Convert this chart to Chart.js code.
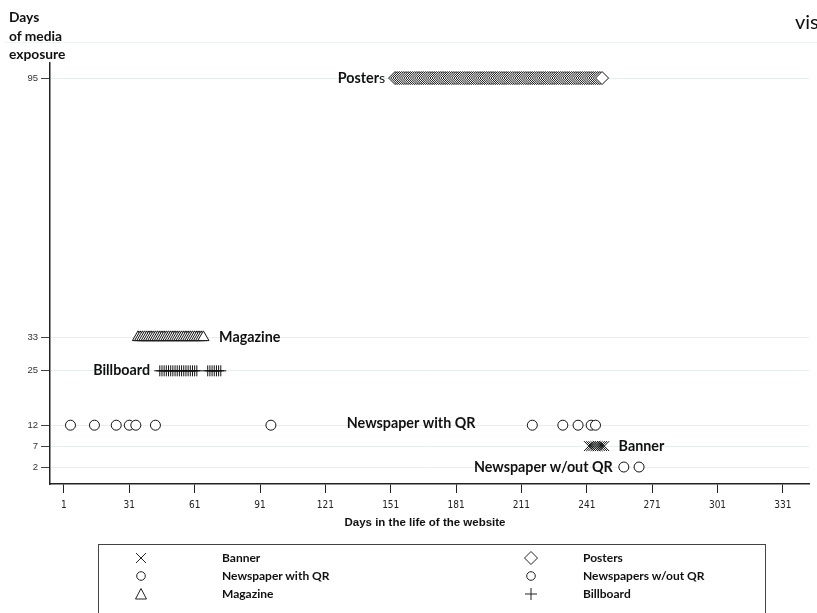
<!DOCTYPE html>
<html>
<head>
<meta charset="utf-8">
<script src="https://cdn.jsdelivr.net/npm/chart.js@4"></script>
<style>
  html, body { margin: 0; padding: 0; background: #fff; overflow: hidden; }
  #wrap { position: relative; width: 817px; height: 613px; }
  #chart { position: absolute; left: 0; top: 0; }
  .ytitle { position: absolute; left: 9px; top: 8px; font: bold 13.8px Lato, sans-serif; line-height: 18.5px; color: #111; }
  .vis { position: absolute; left: 795px; top: 9px; font: 20px Lato, sans-serif; color: #111; }
  .xtitle { position: absolute; left: 0; width: 850px; top: 516px; text-align: center; font: bold 11.5px 'Liberation Sans', Arial, sans-serif; color: #111; }
  .legend { position: absolute; left: 98px; top: 544px; width: 666px; height: 90px; border: 1px solid #444; }
  .legend .item { position: absolute; font: bold 12px Lato, sans-serif; color: #111; }
  .legend svg { position: absolute; }
</style>
</head>
<body>
<div id="wrap">
  <canvas id="chart" width="817" height="613"></canvas>
  <div class="ytitle">Days<br>of media<br>exposure</div>
  <div class="vis">vis</div>
  <div class="xtitle">Days in the life of the website</div>
  <div class="legend" id="legend"></div>
</div>
<script>
// tick values
const xTicks = [1, 31, 61, 91, 121, 151, 181, 211, 241, 271, 301, 331];
const yTicks = [2, 7, 12, 25, 33, 95];

// days of exposure for each medium
const bannerDays = [242, 243, 244, 245, 246, 247, 248, 249];
const posterDays = [153, 154, 155, 156, 157, 158, 159, 160, 161, 162, 163, 164, 165, 166, 167, 168,
  169, 170, 171, 172, 173, 174, 175, 176, 177, 178, 179, 180, 181, 182, 183, 184, 185, 186, 187, 188,
  189, 190, 191, 192, 193, 194, 195, 196, 197, 198, 199, 200, 201, 202, 203, 204, 205, 206, 207, 208,
  209, 210, 211, 212, 213, 214, 215, 216, 217, 218, 219, 220, 221, 222, 223, 224, 225, 226, 227, 228,
  229, 230, 231, 232, 233, 234, 235, 236, 237, 238, 239, 240, 241, 242, 243, 244, 245, 246, 247, 248];
const newsQRDays = [4, 15, 25, 31, 34, 43, 96, 216, 230, 237, 243, 245];
const newsNoQRDays = [258, 265];
const magazineDays = [35, 36, 37, 38, 39, 40, 41, 42, 43, 44, 45, 46, 47, 48, 49, 50, 51, 52, 53, 54,
  55, 56, 57, 58, 59, 60, 61, 62, 63, 64, 65];
const billboardDays = [45, 46, 47, 48, 49, 50, 51, 52, 53, 54, 55, 56, 57, 58, 59, 60, 61, 62,
  67, 68, 69, 70, 71, 72, 73];

// total days of media exposure per medium (the y row)
const bannerRow = 7;
const posterRow = 95;
const newsQRRow = 12;
const newsNoQRRow = 2;
const magazineRow = 33;
const billboardRow = 25;

function points(days, row) {
  return days.map(d => ({ x: d, y: row }));
}

function series(label, days, row, style, radius) {
  return {
    label: label,
    data: points(days, row),
    pointStyle: style,
    pointRadius: radius,
    pointHoverRadius: radius,
    pointBorderWidth: 1,
    pointBorderColor: '#111',
    pointBackgroundColor: '#fff',
    showLine: false
  };
}

const datasets = [
  series('Banner', bannerDays, bannerRow, 'crossRot', 7),
  series('Posters', posterDays, posterRow, 'rectRot', 6.5),
  series('Newspaper with QR', newsQRDays, newsQRRow, 'circle', 5),
  series('Newspapers w/out QR', newsNoQRDays, newsNoQRRow, 'circle', 5),
  series('Magazine', magazineDays, magazineRow, 'triangle', 6.5),
  series('Billboard', billboardDays, billboardRow, 'cross', 5.5)
];

// text labels next to each row
const rowLabels = [
  { text: 'Posters', day: 148.5, row: posterRow, align: 'right' },
  { text: 'Magazine', day: 72.2, row: magazineRow, align: 'left' },
  { text: 'Billboard', day: 40.5, row: billboardRow, align: 'right' },
  { text: 'Newspaper with QR', day: 189.9, row: newsQRRow + 0.4, align: 'right' },
  { text: 'Banner', day: 255.6, row: bannerRow, align: 'left' },
  { text: 'Newspaper w/out QR', day: 252.9, row: newsNoQRRow, align: 'right' }
];

const labelFont = 'bold 14.3px Lato, sans-serif';

const rowLabelPlugin = {
  id: 'rowLabels',
  beforeDraw(chart) {
    const c = chart.ctx;
    c.save();
    c.strokeStyle = '#eef2f2';
    c.lineWidth = 1;
    c.beginPath();
    c.moveTo(5, 42.5);
    c.lineTo(817, 42.5);
    c.stroke();
    c.restore();
  },
  afterDatasetsDraw(chart) {
    const c = chart.ctx;
    const xs = chart.scales.x;
    const ys = chart.scales.y;
    c.save();
    c.fillStyle = '#111';
    c.textBaseline = 'middle';
    rowLabels.forEach(l => {
      const px = xs.getPixelForValue(l.day);
      const py = ys.getPixelForValue(l.row);
      if (l.text === 'Posters') {
        // the last letter is not bold in the original
        c.font = '14.3px Lato, sans-serif';
        const sw = c.measureText('s').width;
        c.textAlign = 'right';
        c.fillText('s', px, py);
        c.font = labelFont;
        c.fillText('Poster', px - sw, py);
        return;
      }
      c.font = labelFont;
      c.textAlign = l.align;
      c.fillText(l.text, px, py);
    });
    c.restore();
  }
};

new Chart(document.getElementById('chart').getContext('2d'), {
  type: 'scatter',
  data: { datasets: datasets },
  plugins: [rowLabelPlugin],
  options: {
    responsive: false,
    animation: false,
    layout: { padding: { top: 63, right: 0, bottom: 0, left: 0 } },
    plugins: { legend: { display: false }, tooltip: { enabled: false } },
    scales: {
      x: {
        type: 'linear',
        min: -5.4,
        max: 343,
        afterBuildTicks: s => { s.ticks = xTicks.map(v => ({ value: v })); },
        afterFit: s => { s.height = 129; },
        grid: { drawOnChartArea: false, drawTicks: true, tickLength: 9, tickColor: '#222' },
        border: { display: true, color: '#222', width: 1.5 },
        ticks: {
          padding: 6,
          color: '#222',
          maxRotation: 0,
          font: { family: "'Liberation Sans Narrow', 'DejaVu Sans Condensed', sans-serif", size: 10 }
        }
      },
      y: {
        type: 'linear',
        min: -2.06,
        max: 98.6,
        afterBuildTicks: s => { s.ticks = yTicks.map(v => ({ value: v })); },
        afterFit: s => { s.width = 50; },
        grid: { color: '#e8eeee', lineWidth: 1, drawTicks: true, tickLength: 9, tickColor: '#444' },
        border: { display: true, color: '#222', width: 1.5 },
        ticks: {
          padding: 3,
          color: '#333',
          font: { family: "'Liberation Sans', Arial, sans-serif", size: 9.5 }
        }
      }
    }
  }
});

// legend box (two columns, three rows)
const legendItems = [
  { text: 'Banner', shape: 'x', col: 0, row: 0 },
  { text: 'Posters', shape: 'diamond', col: 1, row: 0 },
  { text: 'Newspaper with QR', shape: 'circle', col: 0, row: 1 },
  { text: 'Newspapers w/out QR', shape: 'circle', col: 1, row: 1 },
  { text: 'Magazine', shape: 'triangle', col: 0, row: 2 },
  { text: 'Billboard', shape: 'plus', col: 1, row: 2 }
];

const shapes = {
  x: '<line x1="2" y1="2" x2="12" y2="12"/><line x1="12" y1="2" x2="2" y2="12"/>',
  diamond: '<polygon points="7,0.5 13.5,7 7,13.5 0.5,7"/>',
  circle: '<circle cx="7" cy="7" r="4.3"/>',
  triangle: '<polygon points="7,1.5 12.5,12 1.5,12"/>',
  plus: '<line x1="7" y1="1" x2="7" y2="13"/><line x1="1" y1="7" x2="13" y2="7"/>'
};

const legend = document.getElementById('legend');
legendItems.forEach(it => {
  const top = 6 + it.row * 18;
  const markX = it.col === 0 ? 35 : 425;
  const textX = it.col === 0 ? 123 : 484;
  legend.insertAdjacentHTML('beforeend',
    '<svg width="14" height="14" style="left:' + markX + 'px;top:' + top + 'px" fill="none" stroke="#222" stroke-width="1">' +
    shapes[it.shape] + '</svg>' +
    '<div class="item" style="left:' + textX + 'px;top:' + (top - 1) + 'px">' + it.text + '</div>');
});
</script>
</body>
</html>
